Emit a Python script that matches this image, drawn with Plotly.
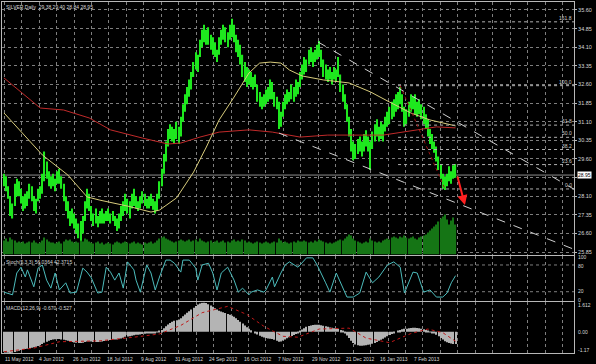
import plotly.graph_objects as go

# ---------------- data ----------------
high = [29.0,28.9,28.5,28.1,27.8,28.6,28.8,28.7,28.4,28.1,
        28.2,28.3,28.6,28.5,28.1,28.0,28.4,28.5,29.0,29.9,
        29.5,29.1,28.9,29.0,28.8,29.1,29.2,28.9,28.6,28.1,
        27.9,27.5,27.6,27.4,27.2,27.0,27.1,27.3,27.9,28.4,
        28.2,27.7,27.4,27.6,27.3,27.5,27.6,27.4,27.5,27.6,
        27.4,27.5,27.3,27.2,27.4,27.7,27.9,28.2,28.0,27.9,
        28.2,28.4,28.1,27.9,28.1,28.3,28.2,28.0,28.1,28.2,
        28.0,27.9,28.2,28.7,29.2,29.8,30.3,30.8,31.0,30.9,
        30.8,31.1,30.9,31.3,31.8,32.2,32.5,32.8,33.1,33.5,
        33.9,33.8,34.4,34.8,35.0,34.8,34.9,34.6,34.5,34.3,
        34.0,34.5,34.8,35.0,34.9,34.7,35.0,35.25,35.0,34.6,
        34.4,34.2,33.8,33.5,33.3,33.2,33.1,32.9,33.0,32.6,
        32.3,32.1,32.2,32.4,32.5,32.8,32.7,32.3,32.1,31.9,
        31.5,31.9,32.2,32.4,32.3,32.6,32.5,32.8,32.7,33.1,
        33.4,33.7,33.6,34.0,34.1,33.9,34.0,34.2,34.35,34.0,
        33.6,33.4,33.2,33.3,33.1,33.3,33.2,33.7,33.0,32.6,
        32.2,31.8,31.3,30.8,30.3,30.2,30.4,30.5,30.3,30.6,
        30.75,30.5,30.3,30.7,31.0,31.2,30.9,31.1,31.0,31.3,
        31.5,31.7,31.9,32.0,32.2,32.3,32.5,32.2,31.7,31.6,
        31.9,32.2,32.1,32.2,31.9,32.0,31.8,31.7,31.4,31.2,
        30.8,30.6,30.3,30.1,29.7,29.4,29.0,28.9,29.0,29.3,
        29.1,29.35,29.40]
low = [28.5,28.3,28.0,27.3,27.2,27.7,28.1,28.1,27.8,27.5,
       27.6,27.7,28.0,27.9,27.5,27.4,27.9,28.0,28.2,28.7,
       28.8,28.5,28.4,28.5,28.3,28.6,28.6,28.4,27.9,27.5,
       27.2,26.9,27.0,26.8,26.6,26.4,26.3,26.6,27.1,27.6,
       27.5,27.1,26.9,27.0,26.85,27.0,27.0,27.0,27.1,27.1,
       27.0,27.1,26.9,26.7,26.8,27.1,27.3,27.5,27.4,27.2,
       27.6,27.7,27.6,27.5,27.6,27.8,27.7,27.6,27.6,27.7,
       27.55,27.4,27.5,28.0,28.5,29.0,29.5,30.1,30.4,30.3,
       30.2,30.4,30.2,30.5,31.1,31.5,31.8,32.1,32.4,32.9,
       33.2,33.1,33.7,34.1,34.3,34.2,34.2,34.0,33.8,33.7,
       33.5,33.8,34.2,34.4,34.3,34.1,34.4,34.5,34.3,33.9,
       33.7,33.4,32.9,32.7,32.5,32.6,32.5,32.4,32.5,31.9,
       31.7,31.6,31.7,31.8,31.9,32.0,32.0,31.7,31.6,30.8,
       30.9,31.3,31.6,31.8,31.9,32.0,31.9,32.1,32.2,32.5,
       32.8,33.0,33.1,33.4,33.5,33.3,33.5,33.6,33.7,33.3,
       32.9,32.8,32.7,32.8,32.6,32.8,32.7,32.9,32.3,31.9,
       31.6,31.1,30.5,29.9,29.55,29.6,29.8,29.9,29.7,29.9,
       30.1,29.9,29.15,30.0,30.3,30.5,30.3,30.4,30.3,30.7,
       30.9,31.0,31.2,31.3,31.5,31.6,31.8,31.5,30.9,31.0,
       31.3,31.5,31.6,31.4,31.3,31.4,31.2,31.0,30.8,30.5,
       30.2,30.0,29.85,29.5,29.15,28.8,28.4,28.35,28.5,28.7,
       28.6,28.8,28.84]
volume = [14,16,13,17,15,14,12,13,12,13, 11,12,13,12,14,12,11,12,14,17,
          15,13,12,12,11,12,13,11,13,15, 14,15,13,12,13,12,14,13,16,15,
          13,12,11,12,13,11,12,10,11,12, 11,10,12,13,12,11,12,13,12,11,
          12,13,11,12,11,10,12,11,12,13, 11,12,14,16,17,18,16,15,14,13,
          12,13,14,15,14,13,14,15,13,14, 15,13,16,14,13,12,13,14,12,13,
          14,12,13,14,12,13,12,14,15,13, 14,13,15,14,12,13,12,11,12,13,
          12,11,12,13,12,11,12,13,12,16, 14,12,13,12,11,12,13,12,14,13,
          13,14,13,12,13,12,14,13,15,14, 13,12,11,12,11,12,13,14,15,14,
          16,18,20,19,16,14,13,12,11,12, 13,12,16,14,13,12,13,12,14,15,
          16,15,17,18,17,16,18,17,19,17, 16,17,18,16,15,17,18,19,20,22,
          24,26,28,30,33,36,38,40,35,30, 34,37,30]
macd = [-1.10,-1.14,-1.16,-1.17,-1.15,-1.12,-1.08,-1.04,-1.00,-0.97,
        -0.95,-0.93,-0.90,-0.88,-0.86,-0.82,-0.78,-0.74,-0.68,-0.60,
        -0.55,-0.50,-0.46,-0.43,-0.41,-0.40,-0.40,-0.42,-0.44,-0.47,
        -0.50,-0.54,-0.57,-0.59,-0.61,-0.62,-0.62,-0.60,-0.57,-0.54,
        -0.53,-0.54,-0.56,-0.57,-0.56,-0.55,-0.53,-0.51,-0.49,-0.47,
        -0.45,-0.43,-0.42,-0.42,-0.40,-0.37,-0.33,-0.28,-0.26,-0.25,
        -0.22,-0.19,-0.17,-0.16,-0.15,-0.13,-0.11,-0.10,-0.08,-0.07,
        -0.06,-0.05,-0.03,0.02,0.10,0.20,0.30,0.40,0.48,0.55,
        0.60,0.64,0.68,0.75,0.85,0.95,1.05,1.13,1.22,1.32,
        1.42,1.50,1.56,1.60,1.61,1.58,1.52,1.45,1.38,1.30,
        1.22,1.16,1.12,1.08,1.03,0.98,0.93,0.88,0.83,0.75,
        0.65,0.55,0.45,0.35,0.25,0.16,0.08,0.00,-0.08,-0.15,
        -0.22,-0.28,-0.32,-0.35,-0.37,-0.38,-0.40,-0.44,-0.50,-0.55,
        -0.53,-0.48,-0.42,-0.36,-0.30,-0.24,-0.18,-0.12,-0.05,0.03,
        0.12,0.20,0.27,0.32,0.35,0.37,0.38,0.39,0.38,0.36,
        0.33,0.30,0.27,0.24,0.22,0.20,0.18,0.16,0.10,0.02,
        -0.08,-0.20,-0.35,-0.50,-0.62,-0.70,-0.74,-0.77,-0.77,-0.76,
        -0.74,-0.72,-0.70,-0.66,-0.62,-0.56,-0.50,-0.44,-0.38,-0.32,
        -0.25,-0.18,-0.12,-0.06,0.00,0.05,0.10,0.14,0.16,0.17,
        0.19,0.21,0.22,0.22,0.21,0.19,0.17,0.14,0.10,0.06,
        0.01,-0.05,-0.10,-0.17,-0.25,-0.34,-0.43,-0.52,-0.58,-0.62,
        -0.65,-0.67,-0.67]
bars = list(range(len(high)))

signal_bars = [0,14,26,34,45,61,73,83,93,105,114,122,131,138,148,162,170,181,191,199,206,212]
signal_vals = [-1.10,-0.90,-0.55,-0.52,-0.50,-0.30,-0.12,0.35,1.05,1.40,0.95,0.30,-0.25,-0.30,0.15,0.20,-0.35,-0.60,-0.10,0.15,-0.05,-0.527]

stoch_bars = [0,4,6,8,10,11,14,16,18,20,22,24,26,29,31,34,37,39,41,44,46,48,50,52,54,56,58,61,62,64,
              67,69,71,73,76,78,80,83,84,87,90,91,93,96,98,100,102,105,108,110,112,115,116,119,122,123,126,127,130,132,
              134,138,139,142,145,147,151,153,156,159,161,164,167,170,173,176,180,183,186,188,192,194,197,200,203,206,208,210,212]
stoch_vals = [19,13,62,75,53,69,31,73,80,46,28,62,24,40,17,19,73,64,51,17,19,75,64,46,62,28,87,69,46,19,
              80,62,24,53,91,91,84,64,91,91,73,46,80,84,62,24,62,75,46,19,28,13,19,24,19,24,53,31,62,80,
              87,75,80,96,96,80,40,19,62,28,8,8,17,64,40,53,80,87,75,17,64,62,19,24,8,8,17,40,56.04]

ma_fast_bars = [0,3,18,30,39,45,58,69,73,81,89,95,101,108,115,120,125,130,134,140,150,162,172,181,191,200,212]
ma_fast_vals = [31.45,31.17,29.76,28.95,28.07,27.94,27.70,27.46,27.54,28.03,29.07,30.08,31.17,32.09,33.06,33.46,
                33.50,33.46,33.18,32.94,32.78,32.66,32.30,31.89,31.45,31.17,30.93]
ma_slow_bars = [0,17,28,40,50,59,65,77,83,92,101,115,126,139,152,167,178,194,203,212]
ma_slow_vals = [32.86,31.65,31.57,31.25,30.77,30.56,30.44,30.20,30.24,30.48,30.68,30.77,30.68,30.48,30.56,
                30.56,30.56,30.77,30.89,30.85]

date_labels = ["11 May 2012","4 Jun 2012","26 Jun 2012","18 Jul 2012","9 Aug 2012","31 Aug 2012",
               "24 Sep 2012","16 Oct 2012","7 Nov 2012","29 Nov 2012","21 Dec 2012","16 Jan 2013","7 Feb 2013"]
date_bars = [0,16,32,48,64,80,96,112,128,144,160,176,192]

price_ticks = [25.85,26.60,27.35,28.10,28.85,29.60,30.35,31.10,31.85,32.60,33.35,34.10,34.85,35.60]
stoch_levels = [20, 80]
stoch_labels = ["100", "80", "20", "0"]
macd_labels = ["1.612", "0.00", "-1.17"]
macd_range = [-1.17, 1.612]

fib_high, fib_low = 32.55, 28.39
fib_bars = [186, 207]
fib_levels = [161.8, 100.0, 61.8, 50.0, 38.2, 23.6, 0.0]
chan_upper_bars, chan_upper_prices = [147.4, 267.6], [34.31, 28.38]
chan_lower_bars, chan_lower_prices = [129.1, 267.6], [30.64, 25.96]
arrow_bars, arrow_prices = [212.7, 216.4], [28.95, 27.74]
last_price = 28.95
title_text = "SILVER,Daily  29.38 29.40 28.84 28.95"
stoch_text = "Stoch(5,3,3) 56.0364 42.3715"
macd_text = "MACD(12,26,9) -0.670 -0.527"

# ---------------- figure ----------------
FONT = "Liberation Sans"
TXT = "#d8d8d8"
GRID = "#7e7e7e"
BORDER = "#b8b8b8"
XR = [-0.94, 267.6]
FS = 5

fig = go.Figure()

fig.add_trace(go.Bar(x=bars, y=volume, marker=dict(color="#157515", line=dict(width=0)),
                     width=0.55, xaxis="x", yaxis="y", showlegend=False, hoverinfo="skip"))
fig.add_trace(go.Scatter(x=ma_slow_bars, y=ma_slow_vals, mode="lines", line=dict(color="#c02a2a", width=1),
                         xaxis="x", yaxis="y4", showlegend=False))
fig.add_trace(go.Scatter(x=ma_fast_bars, y=ma_fast_vals, mode="lines", line=dict(color="#d8cc7c", width=1),
                         xaxis="x", yaxis="y4", showlegend=False))
fig.add_trace(go.Bar(x=bars, y=[h - l for h, l in zip(high, low)], base=low,
                     marker=dict(color="#1ee81e", line=dict(width=0)), width=0.55,
                     xaxis="x", yaxis="y4", showlegend=False))
fig.add_trace(go.Scatter(x=stoch_bars, y=stoch_vals, mode="lines", line=dict(color="#4cbcbc", width=1),
                         xaxis="x2", yaxis="y2", showlegend=False))
fig.add_trace(go.Bar(x=bars, y=macd, marker=dict(color="#b4b4b4", line=dict(width=0)), width=0.5,
                     xaxis="x3", yaxis="y3", showlegend=False))
fig.add_trace(go.Scatter(x=signal_bars, y=signal_vals, mode="lines", line=dict(color="#c01818", width=1, dash="dot"),
                         xaxis="x3", yaxis="y3", showlegend=False))

shapes = []
shapes.append(dict(type="line", xref="x", yref="y4", x0=XR[0], x1=XR[1], y0=last_price, y1=last_price,
                   line=dict(color="#8c8c8c", width=1), layer="below"))
for lv in fib_levels:
    p = fib_low + (fib_high - fib_low) * lv / 100.0
    shapes.append(dict(type="line", xref="x", yref="y4", x0=fib_bars[0] - 1, x1=XR[1], y0=p, y1=p,
                       line=dict(color="#b0b0b0", width=1, dash="dot")))
shapes.append(dict(type="line", xref="x", yref="y4", x0=fib_bars[0], x1=fib_bars[1], y0=fib_high, y1=fib_low,
                   line=dict(color="#a01414", width=1, dash="dot")))
shapes.append(dict(type="line", xref="x", yref="y4", x0=chan_upper_bars[0], x1=chan_upper_bars[1],
                   y0=chan_upper_prices[0], y1=chan_upper_prices[1], line=dict(color="#d0d0d0", width=1, dash="dash")))
shapes.append(dict(type="line", xref="x", yref="y4", x0=chan_lower_bars[0], x1=chan_lower_bars[1],
                   y0=chan_lower_prices[0], y1=chan_lower_prices[1], line=dict(color="#d0d0d0", width=1, dash="dash")))
for lv in stoch_levels:
    shapes.append(dict(type="line", xref="x2", yref="y2", x0=XR[0], x1=XR[1], y0=lv, y1=lv,
                       line=dict(color=GRID, width=1, dash="dot"), layer="below"))

def txt(**kw):
    d = dict(showarrow=False, borderpad=0, font=dict(family=FONT, size=FS, color=TXT))
    d.update(kw)
    return d

ann = []
ann.append(txt(xref="paper", yref="paper", x=0.006, y=0.996, xanchor="left", yanchor="top", text=title_text))
ann.append(txt(xref="paper", yref="paper", x=0.006, y=0.272, xanchor="left", yanchor="top", text=stoch_text))
ann.append(txt(xref="paper", yref="paper", x=0.006, y=0.139, xanchor="left", yanchor="top", text=macd_text))
for b, t in zip(date_bars, date_labels):
    ann.append(txt(xref="x", yref="paper", x=b, y=-0.006, xanchor="left", yanchor="top", text=t))
for lv in fib_levels:
    p = fib_low + (fib_high - fib_low) * lv / 100.0
    ann.append(txt(xref="x", yref="y4", x=XR[1] - 0.3, y=p, xanchor="right", yanchor="bottom",
                   text=f"{lv:.1f}", font=dict(family=FONT, size=FS, color="#cfcfcf")))
ann.append(txt(xref="paper", yref="y4", x=1.0, y=last_price, xanchor="left", yanchor="middle", xshift=3,
               text=f"{last_price:.2f}", bgcolor="#ffffff", font=dict(family=FONT, size=FS, color="#000000")))
# stoch & macd axis labels, placed the way the terminal offsets them
stoch_label_y = [98, 77, 21, 2]
for t, v in zip(stoch_labels, stoch_label_y):
    ann.append(txt(xref="paper", yref="y2", x=1.0, y=v, xanchor="left", yanchor="middle", xshift=3, text=t))
macd_label_y = [1.45, 0.0, -1.0]
for t, v in zip(macd_labels, macd_label_y):
    ann.append(txt(xref="paper", yref="y3", x=1.0, y=v, xanchor="left", yanchor="middle", xshift=3, text=t))
ann.append(dict(xref="x", yref="y4", axref="x", ayref="y4", x=arrow_bars[1], y=arrow_prices[1],
                ax=arrow_bars[0], ay=arrow_prices[0], showarrow=True, arrowhead=2, arrowsize=1,
                arrowwidth=2, arrowcolor="#ff2020", text=""))

xcommon = dict(range=XR, showticklabels=False, ticks="", showgrid=True, gridcolor=GRID, griddash="dot",
               gridwidth=1, tick0=8.31, dtick=8.19, zeroline=False, showline=True, mirror=True,
               linecolor=BORDER, linewidth=1)
tickfont = dict(family=FONT, size=FS + 0.5, color=TXT)

fig.update_layout(
    width=596, height=364, autosize=False,
    margin=dict(l=2, r=22, t=2, b=11, pad=0),
    paper_bgcolor="#000000", plot_bgcolor="#000000",
    showlegend=False, barmode="overlay",
    shapes=shapes, annotations=ann,
    xaxis=dict(domain=[0, 1], anchor="y", **xcommon),
    xaxis2=dict(domain=[0, 1], anchor="y2", matches="x", **xcommon),
    xaxis3=dict(domain=[0, 1], anchor="y3", matches="x", **xcommon),
    yaxis=dict(domain=[0.2806, 1], range=[0, 252.5], showgrid=False, showticklabels=False, zeroline=False,
               showline=True, mirror=True, linecolor=BORDER, linewidth=1),
    yaxis4=dict(overlaying="y", anchor="x", side="right", range=[25.75, 35.92],
                tickvals=price_ticks, ticktext=[("" if abs(v - 28.85) < 1e-9 else f"{v:.2f}") for v in price_ticks],
                showgrid=True, gridcolor=GRID, griddash="dot", gridwidth=1, zeroline=False,
                ticks="outside", ticklen=2, tickcolor=BORDER, tickfont=tickfont),
    yaxis2=dict(domain=[0.1481, 0.2764], anchor="x2", side="right", range=[-0.9, 100.2],
                showticklabels=False, showgrid=False, zeroline=False,
                showline=True, mirror=True, linecolor=BORDER, linewidth=1),
    yaxis3=dict(domain=[0, 0.1439], anchor="x3", side="right", range=macd_range,
                showticklabels=False, showgrid=False, zeroline=False,
                showline=True, mirror=True, linecolor=BORDER, linewidth=1),
)

fig.write_html("out.html")
